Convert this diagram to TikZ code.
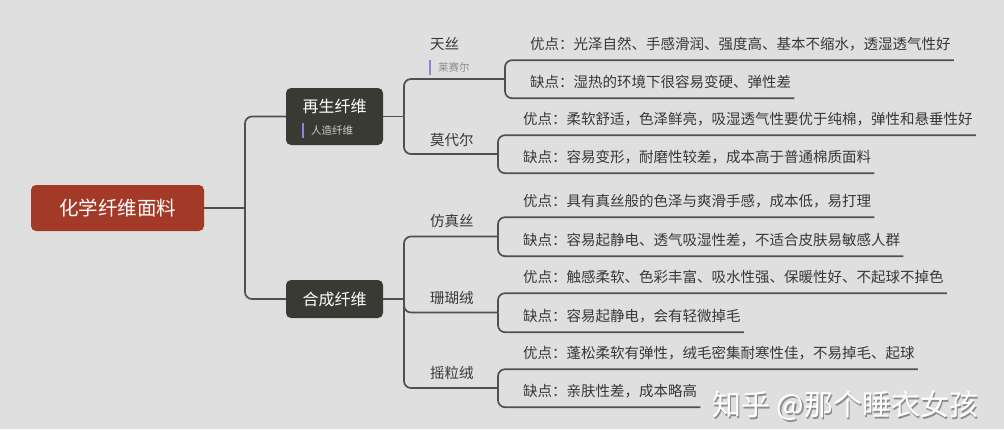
\documentclass[tikz,border=0pt]{standalone}
\usepackage{fontspec}
\setmainfont{Noto Sans CJK SC}
\newfontfamily\cjk{Noto Sans CJK SC}
\definecolor{bgc}{HTML}{DFDFDF}
\definecolor{rootc}{HTML}{A33A28}
\definecolor{boxc}{HTML}{3A3A35}
\definecolor{linec}{HTML}{505050}
\definecolor{txtc}{HTML}{383838}
\definecolor{barc}{HTML}{8C84D8}
\begin{document}
\begin{tikzpicture}[x=1pt,y=-1pt,
  conn/.style={draw=linec, line width=1.7pt, rounded corners=7pt},
  rootbox/.style={fill=rootc, rounded corners=5pt, minimum width=173pt, minimum height=46pt, text=white, font=\cjk\fontsize{19.5pt}{22pt}\selectfont},
  lonebox/.style={fill=boxc, rounded corners=5pt, minimum width=97pt},
  lonetext/.style={text=white, font=\cjk\fontsize{16pt}{18pt}\selectfont, inner sep=0pt},
  sublabel/.style={anchor=west, inner xsep=0pt, inner ysep=2pt, font=\cjk\fontsize{10.5pt}{12pt}\selectfont},
  subbar/.style={draw=barc, line width=1.5pt},
  midtext/.style={anchor=west, inner sep=0pt, text=txtc, font=\cjk\fontsize{14.5pt}{17pt}\selectfont},
  leaf/.style={anchor=west, inner xsep=3pt, inner ysep=0pt, minimum height=30pt, text height=11.5pt, text depth=2.5pt, text=txtc, font=\cjk\fontsize{14.5pt}{17pt}\selectfont},
  wmark/.style={anchor=west, inner sep=0pt, font=\cjk\fontsize{29pt}{31pt}\selectfont}
]
\useasboundingbox (0,0) rectangle (1004,429);
\fill[bgc] (0,0) rectangle (1004,429);

% root and level 1
\node[rootbox] (root) at (117.5,208) {化学纤维面料};
\node[lonebox, minimum height=57pt] (regen) at (334.5,116.5) {};
\node[lonetext] (regenT) at (334.5,106) {再生纤维};
\node[sublabel, text=white!75!boxc] (regenS) at (311,130.5) {人造纤维};
\draw[subbar] ([xshift=-8pt]regenS.north west) -- ([xshift=-8pt]regenS.south west);
\node[lonebox, minimum height=38pt] (synth) at (334.5,299) {};
\node[lonetext] (synthT) at (334.5,299) {合成纤维};

% level 2
\node[midtext] (tiansi) at (430,44) {天丝};
\node[sublabel, text=black!45] (tiansiS) at (438,67.5) {莱赛尔};
\draw[subbar] ([xshift=-8pt]tiansiS.north west) -- ([xshift=-8pt]tiansiS.south west);
\node[midtext] (modal) at (430,140) {莫代尔};
\node[midtext] (fzs) at (430,221) {仿真丝};
\node[midtext] (shr) at (430,298) {珊瑚绒};
\node[midtext] (ylr) at (430,373) {摇粒绒};

% leaves
\node[leaf] (a1) at (527,45) {优点：光泽自然、手感滑润、强度高、基本不缩水，透湿透气性好};
\node[leaf] (a2) at (527,83) {缺点：湿热的环境下很容易变硬、弹性差};
\node[leaf] (b1) at (520,120) {优点：柔软舒适，色泽鲜亮，吸湿透气性要优于纯棉，弹性和悬垂性好};
\node[leaf] (b2) at (520,158) {缺点：容易变形，耐磨性较差，成本高于普通棉质面料};
\node[leaf] (c1) at (520,202) {优点：具有真丝般的色泽与爽滑手感，成本低，易打理};
\node[leaf] (c2) at (520,241) {缺点：容易起静电、透气吸湿性差，不适合皮肤易敏感人群};
\node[leaf] (d1) at (520,278) {优点：触感柔软、色彩丰富、吸水性强、保暖性好、不起球不掉色};
\node[leaf] (d2) at (520,317) {缺点：容易起静电，会有轻微掉毛};
\node[leaf] (e1) at (520,354) {优点：蓬松柔软有弹性，绒毛密集耐寒性佳，不易掉毛、起球};
\node[leaf] (e2) at (520,392) {缺点：亲肤性差，成本略高};

% junction coordinates
\coordinate (t1) at (245,208);
\coordinate (t2) at (404,116.5);
\coordinate (t3) at (404,299);
\coordinate (j1) at (505,79);
\coordinate (j2) at (498,154);
\coordinate (j3) at (498,236.5);
\coordinate (j4) at (498,312.5);
\coordinate (j5) at (498,388);

% connectors
\draw[conn] (root.east) -- (t1);
\draw[conn] (t1) |- (regen.west);
\draw[conn] (t1) |- (synth.west);
\draw[conn] (regen.east) -- (t2);
\draw[conn] (synth.east) -- (t3);
\draw[conn] (t2) |- (j1);
\draw[conn] (t2) |- (j2);
\draw[conn] (t3) |- (j3);
\draw[conn] (t3) |- (j4);
\draw[conn] (t3) |- (j5);
\draw[conn] (a1.south east) -| (j1);
\draw[conn] (a2.south east) -| (j1);
\draw[conn] (b1.south east) -| (j2);
\draw[conn] (b2.south east) -| (j2);
\draw[conn] (c1.south east) -| (j3);
\draw[conn] (c2.south east) -| (j3);
\draw[conn] (d1.south east) -| (j4);
\draw[conn] (d2.south east) -| (j4);
\draw[conn] (e1.south east) -| (j5);
\draw[conn] (e2.south east) -| (j5);

% watermark
\node[wmark, text=black!45] (wmS) at (713.5,407.5) {知乎 @那个睡衣女孩};
\node[wmark, text=white] (wm) at (712,406) {知乎 @那个睡衣女孩};
\end{tikzpicture}
\end{document}
